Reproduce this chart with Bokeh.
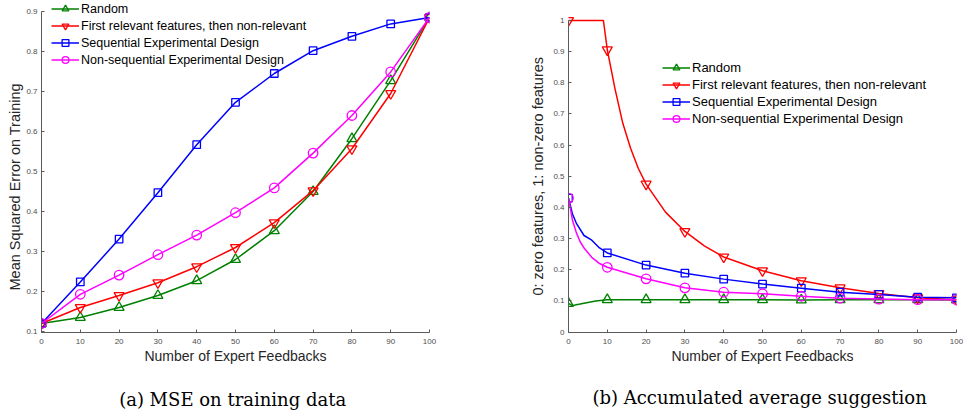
from bokeh.plotting import figure
from bokeh.layouts import row
from bokeh.models import (FixedTicker, Legend, LegendItem, LinearAxis, Title,
                          NumeralTickFormatter)
from bokeh.embed import file_html
from bokeh.resources import INLINE

# ---------------- data ----------------
series_names = ["Random",
                "First relevant features, then non-relevant",
                "Sequential Experimental Design",
                "Non-sequential Experimental Design"]

x_ticks = [0, 10, 20, 30, 40, 50, 60, 70, 80, 90, 100]
left_y_ticks = [0.1, 0.2, 0.3, 0.4, 0.5, 0.6, 0.7, 0.8, 0.9]
right_y_ticks = [0, 0.1, 0.2, 0.3, 0.4, 0.5, 0.6, 0.7, 0.8, 0.9, 1]

# (a) MSE on training data, read at every 10 feedbacks
feedbacks = [0, 10, 20, 30, 40, 50, 60, 70, 80, 90, 100]
mse_random = [0.12, 0.135, 0.16, 0.19, 0.227, 0.28, 0.352, 0.45, 0.582, 0.727, 0.885]
mse_first_rel = [0.12, 0.16, 0.19, 0.222, 0.262, 0.31, 0.372, 0.452, 0.557, 0.695, 0.885]
mse_seq_ed = [0.12, 0.224, 0.331, 0.447, 0.567, 0.673, 0.745, 0.802, 0.838, 0.869, 0.885]
mse_nonseq_ed = [0.12, 0.193, 0.241, 0.292, 0.341, 0.397, 0.459, 0.546, 0.64, 0.749, 0.885]

# (b) accumulated average suggestion, marker values (every 10 feedbacks)
sugg_random = [0.092, 0.104, 0.104, 0.104, 0.104, 0.104, 0.103, 0.104, 0.104, 0.104, 0.103]
sugg_first_rel = [1.0, 0.906, 0.475, 0.323, 0.241, 0.197, 0.165, 0.142, 0.124, 0.11, 0.104]
sugg_seq_ed = [0.43, 0.254, 0.215, 0.189, 0.17, 0.154, 0.141, 0.128, 0.121, 0.112, 0.11]
sugg_nonseq_ed = [0.43, 0.208, 0.171, 0.142, 0.128, 0.123, 0.115, 0.109, 0.106, 0.104, 0.104]

# (b) curves, read more densely where they bend
line_random_x = [0, 1, 2, 3, 5, 7, 10, 20, 30, 40, 50, 60, 70, 80, 90, 100]
line_random_y = [0.092, 0.085, 0.088, 0.09, 0.095, 0.1, 0.104, 0.104, 0.104, 0.104, 0.104, 0.103, 0.104, 0.104, 0.104, 0.103]
line_first_rel_x = [0, 9, 10, 12, 14, 16, 18, 20, 25, 30, 35, 40, 50, 60, 70, 80, 90, 100]
line_first_rel_y = [1.0, 1.0, 0.906, 0.78, 0.67, 0.59, 0.525, 0.475, 0.385, 0.323, 0.277, 0.241, 0.197, 0.165, 0.142, 0.124, 0.11, 0.104]
line_seq_ed_x = [0, 1, 2, 4, 6, 8, 10, 20, 30, 40, 50, 60, 70, 80, 90, 100]
line_seq_ed_y = [0.43, 0.38, 0.35, 0.31, 0.295, 0.27, 0.254, 0.215, 0.189, 0.17, 0.154, 0.141, 0.128, 0.121, 0.112, 0.11]
line_nonseq_ed_x = [0, 1, 2, 3, 4, 6, 8, 10, 20, 30, 40, 50, 60, 70, 80, 90, 100]
line_nonseq_ed_y = [0.43, 0.36, 0.32, 0.29, 0.27, 0.24, 0.22, 0.208, 0.171, 0.142, 0.128, 0.123, 0.115, 0.109, 0.106, 0.104, 0.104]

x_label = "Number of Expert Feedbacks"
y_labels = ["Mean Squared Error on Training", "0: zero features, 1: non-zero features"]
captions = ["(a)  MSE on training data", "(b)  Accumulated average suggestion"]

# ---------------- styles / layout ----------------
colors = ["#008000", "#ff0000", "#0000ff", "#ff00ff"]
markers = ["triangle", "inverted_triangle", "square", "circle"]
marker_sizes = [10, 10, 7.5, 9.5]
FONT = "Liberation Sans"
AXIS_COLOR = "#5a5a5a"
H = 413
FRAME_TOP = 1        # frames of both panels (row aligns them)
FRAME_BOTTOM = 332


def span_range(v_top, px_top, v_bot, px_bot):
    """y range so that v_top sits at pixel px_top and v_bot at px_bot."""
    per_px = (v_top - v_bot) / (px_bot - px_top)
    return (v_bot - (FRAME_BOTTOM - px_bot) * per_px,
            v_top + (px_top - FRAME_TOP) * per_px)


def style(p, yticks):
    p.xaxis.axis_label = x_label
    p.xaxis.ticker = FixedTicker(ticks=x_ticks)
    p.yaxis.ticker = FixedTicker(ticks=yticks)
    p.yaxis.formatter = NumeralTickFormatter(format="0.[0]")
    for ax in (p.xaxis[0], p.yaxis[0]):
        ax.axis_label_text_font = FONT
        ax.axis_label_text_font_size = "14px"
        ax.axis_label_text_font_style = "normal"
        ax.axis_label_text_color = "#262626"
        ax.major_label_text_font = FONT
        ax.major_label_text_font_size = "8px"
        ax.major_label_text_color = "#4d4d4d"
        ax.axis_line_color = AXIS_COLOR
        ax.major_tick_line_color = AXIS_COLOR
        ax.major_tick_in = 3
        ax.major_tick_out = 0
        ax.minor_tick_line_color = None
    p.xaxis.major_label_standoff = 6
    p.yaxis.major_label_standoff = 4
    p.xaxis.axis_label_standoff = 1
    p.xgrid.visible = False
    p.ygrid.visible = False
    p.outline_line_color = None


def add_ylabel(p, text, offset, standoff):
    p.add_layout(Title(text=text, align="left", offset=offset, standoff=standoff,
                       vertical_align="bottom", text_font=FONT,
                       text_font_size="14.5px", text_font_style="normal",
                       text_color="#262626"), "left")


def add_legend(p, items, loc, fsize):
    lg = Legend(items=items, location=loc, background_fill_alpha=0,
                border_line_color=None, label_text_font=FONT,
                label_text_font_size=fsize, label_text_color="#000000",
                glyph_width=28, glyph_height=17, label_height=17,
                spacing=0, padding=0, margin=0, label_standoff=2)
    p.add_layout(lg)


def add_caption(p, text, standoff):
    cap = LinearAxis(ticker=FixedTicker(ticks=[]), axis_label=text,
                     axis_line_color=None, major_tick_line_color=None,
                     minor_tick_line_color=None, major_label_text_font_size="0px",
                     axis_label_standoff=standoff,
                     axis_label_text_font="DejaVu Serif",
                     axis_label_text_font_size="18px",
                     axis_label_text_font_style="normal",
                     axis_label_text_color="#000000")
    p.add_layout(cap, "below")


# ---------------- (a) ----------------
yr1 = span_range(0.9, 11, 0.1, 331)
p1 = figure(width=490, height=H, x_range=(0, 100), y_range=yr1,
            output_backend="svg", toolbar_location=None, title=None,
            min_border_left=41, min_border_right=61,
            min_border_top=FRAME_TOP, min_border_bottom=H - FRAME_BOTTOM)
style(p1, left_y_ticks)
p1.yaxis.bounds = (yr1[0], 0.9)
items = []
for name, ys, c, m, s in zip(series_names,
                             [mse_random, mse_first_rel, mse_seq_ed, mse_nonseq_ed],
                             colors, markers, marker_sizes):
    lr = p1.line(feedbacks, ys, line_color=c, line_width=1.5)
    mr = p1.scatter(feedbacks, ys, marker=m, size=s, fill_color=None,
                    line_color=c, line_width=1.3)
    items.append(LegendItem(label=name, renderers=[lr, mr]))
add_legend(p1, items, (10, 264), "12.5px")
add_ylabel(p1, y_labels[0], FRAME_BOTTOM - 290, 2)
add_caption(p1, captions[0], 22)

# ---------------- (b) ----------------
yr2 = span_range(1.0, 20, 0.0, 331.6)
p2 = figure(width=473, height=H, x_range=(0, 100), y_range=yr2,
            output_backend="svg", toolbar_location=None, title=None,
            min_border_left=78, min_border_right=7,
            min_border_top=FRAME_TOP, min_border_bottom=H - FRAME_BOTTOM)
style(p2, right_y_ticks)
p2.yaxis.bounds = (yr2[0], 1.0)
items = []
for name, lx, ly, ys, c, m, s in zip(
        series_names,
        [line_random_x, line_first_rel_x, line_seq_ed_x, line_nonseq_ed_x],
        [line_random_y, line_first_rel_y, line_seq_ed_y, line_nonseq_ed_y],
        [sugg_random, sugg_first_rel, sugg_seq_ed, sugg_nonseq_ed],
        colors, markers, marker_sizes):
    lr = p2.line(lx, ly, line_color=c, line_width=1.5)
    mr = p2.scatter(feedbacks, ys, marker=m, size=s, fill_color=None,
                    line_color=c, line_width=1.3)
    items.append(LegendItem(label=name, renderers=[lr, mr]))
add_legend(p2, items, (94, 205), "13px")
add_ylabel(p2, y_labels[1], FRAME_BOTTOM - 295, 9)
add_caption(p2, captions[1], 20)

layout = row(p1, p2)
open("out.html", "w").write(file_html(layout, INLINE))
